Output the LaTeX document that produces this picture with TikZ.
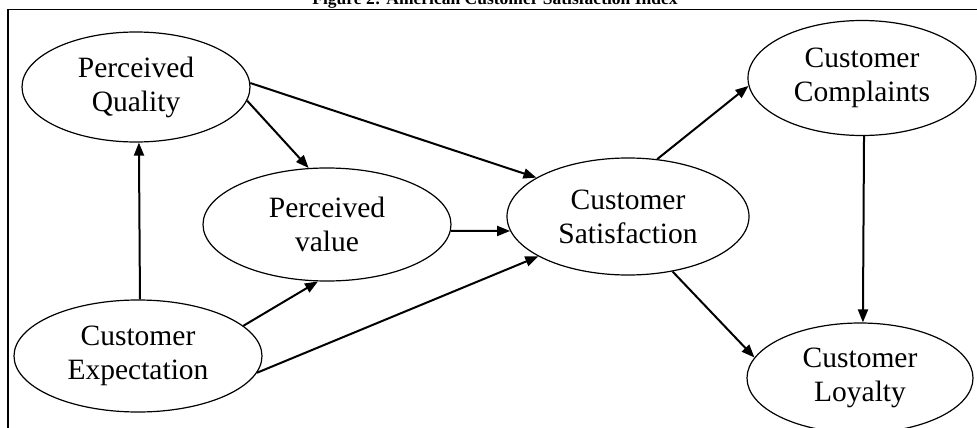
\documentclass[tikz,border=0pt]{standalone}
\usepackage{fontspec}
\setmainfont{Liberation Serif}
\usetikzlibrary{shapes.geometric,arrows.meta}

\tikzset{
  construct/.style={ellipse, draw, line width=1.2pt, inner sep=0pt, align=center,
    font=\fontsize{29.5}{34}\selectfont},
  link/.style={-{Triangle[length=13pt,width=10pt]}, line width=2pt}
}

\begin{document}
\begin{tikzpicture}[x=1pt, y=-1pt]
    \useasboundingbox (0,0) rectangle (977,428);

    % Titulo (cortado por arriba)
    \node[anchor=base, font=\bfseries\fontsize{17.5}{20}\selectfont] (title) at (495,5)
        {Figure 2: American Customer Satisfaction Index};

    % Marco
    \draw[line width=1.5pt] (8,428) -- (8,9.5) -- (977,9.5);

    % Constructos
    \node[construct, minimum width=228pt, minimum height=110pt] (PQ) at (136,87) {Perceived\\Quality};
    \node[construct, minimum width=248pt, minimum height=113pt] (PV) at (327,224.5) {Perceived\\value};
    \node[construct, minimum width=242pt, minimum height=117pt] (CS) at (628,216.5) {Customer\\Satisfaction};
    \node[construct, minimum width=228pt, minimum height=115pt] (CC) at (862,78) {Customer\\Complaints};
    \node[construct, minimum width=226pt, minimum height=110pt] (CL) at (860,378) {Customer\\Loyalty};
    \node[construct, minimum width=248pt, minimum height=112pt] (CE) at (138,356) {Customer\\Expectation};

    % Relaciones
    \draw[link] (CE.88) -- (PQ.-87);
    \draw[link] (CE.16) -- (PV.-99);
    \draw[link] (CE.-8) -- (CS.204);
    \draw[link] (PQ.-7) -- (PV.108);
    \draw[link] (PQ.2.5) -- (CS.157);
    \draw[link] (PV.-3.5) -- (CS.187);
    \draw[link] (CS.63) -- (CC.-176);
    \draw[link] (CS.-51) -- (CL.169);
    \draw[link] (CC.-88) -- (CL.87);
\end{tikzpicture}
\end{document}
